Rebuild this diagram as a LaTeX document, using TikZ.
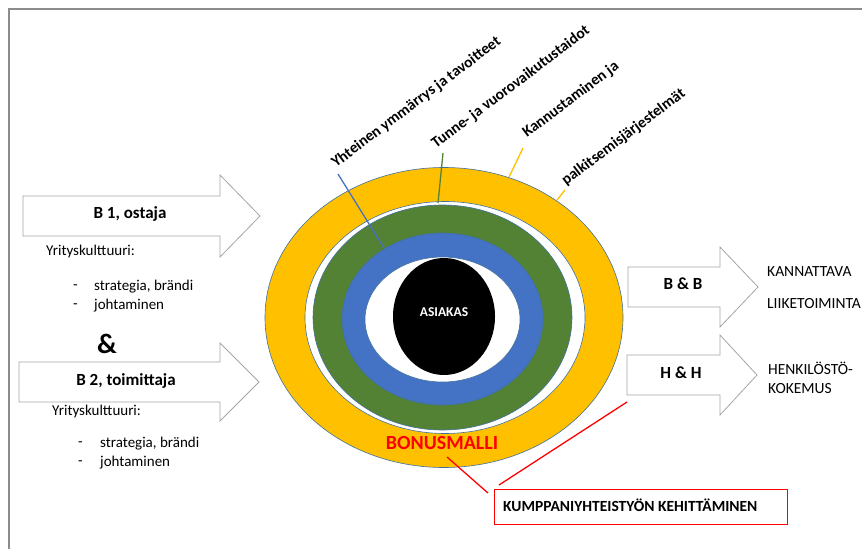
\documentclass[tikz,border=0pt]{standalone}
\usepackage{fontspec}
\setmainfont{Carlito}
\begin{document}
\begin{tikzpicture}[x=1pt,y=-1pt]
\definecolor{ringyellow}{HTML}{FFC000}
\definecolor{ringgreen}{HTML}{548235}
\definecolor{ringblue}{HTML}{4472C4}
\definecolor{ringedge}{HTML}{41719C}
\definecolor{arrowgray}{HTML}{A5A5A5}
\definecolor{framegray}{HTML}{8C8C8C}
\definecolor{callred}{HTML}{FF0000}
\tikzset{
  ring/.style={draw=ringedge, line width=0.6pt},
  blockarrow/.style={draw=arrowgray, fill=white, line width=0.8pt, line join=miter},
  arrowlabel/.style={font=\bfseries\fontsize{17}{20}\selectfont, inner sep=0pt},
  plainlabel/.style={font=\fontsize{15}{18}\selectfont, anchor=west, inner sep=0pt},
  sidelabel/.style={font=\fontsize{15.5}{18}\selectfont, anchor=west, inner sep=0pt},
  slanted/.style={font=\bfseries\fontsize{15.5}{18}\selectfont, anchor=base west, rotate=37, inner sep=0pt},
  tick/.style={line width=1.3pt},
  callout/.style={draw=callred, line width=1.3pt}
}
\useasboundingbox (0,0) rectangle (862,549);
% page frame
\draw[framegray, line width=1.8pt] (9,549) -- (9,9) -- (862,9);

% rings round the customer
\draw[ring, fill=ringyellow] (444,317.5) ellipse [x radius=179, y radius=150];
\draw[ring, fill=white] (445,317.5) ellipse [x radius=140, y radius=116];
\draw[ring, fill=ringgreen] (442.5,317.5) ellipse [x radius=129.5, y radius=112.5];
\draw[ring, fill=ringblue] (442.5,319) ellipse [x radius=100.5, y radius=86];
\draw[ring, fill=white] (442.5,319.5) ellipse [x radius=77.5, y radius=62.5];
\fill[black] (444,316.5) ellipse [x radius=51, y radius=58.5];
\node[text=white, font=\bfseries\fontsize{13.5}{15}\selectfont] (asiakas) at (444,312) {ASIAKAS};

% label ticks
\coordinate (tb1) at (338,174);
\coordinate (tb2) at (384,248);
\coordinate (tg1) at (443,153);
\coordinate (tg2) at (438,203);
\coordinate (ty1) at (523,148);
\coordinate (ty2) at (509,177);
\coordinate (tz1) at (565,190);
\coordinate (tz2) at (557,200);
\draw[tick, ringblue] (tb1) -- (tb2);
\draw[tick, ringgreen] (tg1) -- (tg2);
\draw[tick, ringyellow] (ty1) -- (ty2);
\draw[tick, ringyellow] (tz1) -- (tz2);

% slanted ring labels
\node[slanted] (lblue) at (336,168) {Yhteinen ymmärrys ja tavoitteet};
\node[slanted] (lgreen) at (436,149) {Tunne- ja vuorovaikutustaidot};
\node[slanted] (lyel1) at (527,138) {Kannustaminen ja};
\node[slanted] (lyel2) at (566,186) {palkitsemisjärjestelmät};

% left block arrows
\draw[blockarrow] (23,196) -- (220,196) -- (220,175) -- (260,216) -- (220,257) -- (220,236) -- (23,236) -- cycle;
\node[arrowlabel] (b1) at (130,214) {B 1, ostaja};
\draw[blockarrow] (19,362) -- (220,362) -- (220,343) -- (259,382) -- (220,421) -- (220,402) -- (19,402) -- cycle;
\node[arrowlabel] (b2) at (126,381) {B 2, toimittaja};

% culture notes
\node[plainlabel] (cult1) at (46,251) {Yrityskulttuuri:};
\node[plainlabel] (dash1a) at (73,287) {-};
\node[plainlabel] (item1a) at (94,287) {strategia, brändi};
\node[plainlabel] (dash1b) at (73,306) {-};
\node[plainlabel] (item1b) at (94,306) {johtaminen};
\node[font=\bfseries\fontsize{28}{32}\selectfont, inner sep=0pt] (amp) at (107,344) {\&};
\node[plainlabel] (cult2) at (52,411) {Yrityskulttuuri:};
\node[plainlabel] (dash2a) at (78,444) {-};
\node[plainlabel] (item2a) at (100,444) {strategia, brändi};
\node[plainlabel] (dash2b) at (78,463) {-};
\node[plainlabel] (item2b) at (100,463) {johtaminen};

% right block arrows
\draw[blockarrow] (628,267) -- (720,267) -- (720,247) -- (758,287) -- (720,327) -- (720,307) -- (628,307) -- cycle;
\node[arrowlabel] (bb) at (683,284) {B \& B};
\draw[blockarrow] (627,355) -- (720,355) -- (720,335) -- (757,375) -- (720,415) -- (720,395) -- (627,395) -- cycle;
\node[arrowlabel] (hh) at (681,373) {H \& H};
\node[sidelabel] (kann) at (767,272) {KANNATTAVA};
\node[sidelabel] (liike) at (767,304) {LIIKETOIMINTA};
\node[sidelabel] (henk) at (768,368) {HENKILÖSTÖ-};
\node[sidelabel] (koke) at (768,389) {KOKEMUS};

% bonus model and partnership callout
\node[text=callred, font=\bfseries\fontsize{20}{24}\selectfont, inner sep=0pt] (bonus) at (442,443) {BONUSMALLI};
\node[draw=callred, line width=0.9pt, minimum width=293, minimum height=35, inner sep=0pt] (kump) at (640.5,506.5) {};
\node[font=\bfseries\fontsize{15.5}{18}\selectfont, anchor=west, inner sep=0pt] (kumptext) at (503,505) {KUMPPANIYHTEISTYÖN KEHITTÄMINEN};
\coordinate (rc1) at (447,457);
\coordinate (rc2) at (488,493);
\coordinate (rc3) at (499,485);
\coordinate (rc4) at (627,402);
\draw[callout] (rc1) -- (rc2);
\draw[callout] (rc3) -- (rc4);
\end{tikzpicture}
\end{document}
